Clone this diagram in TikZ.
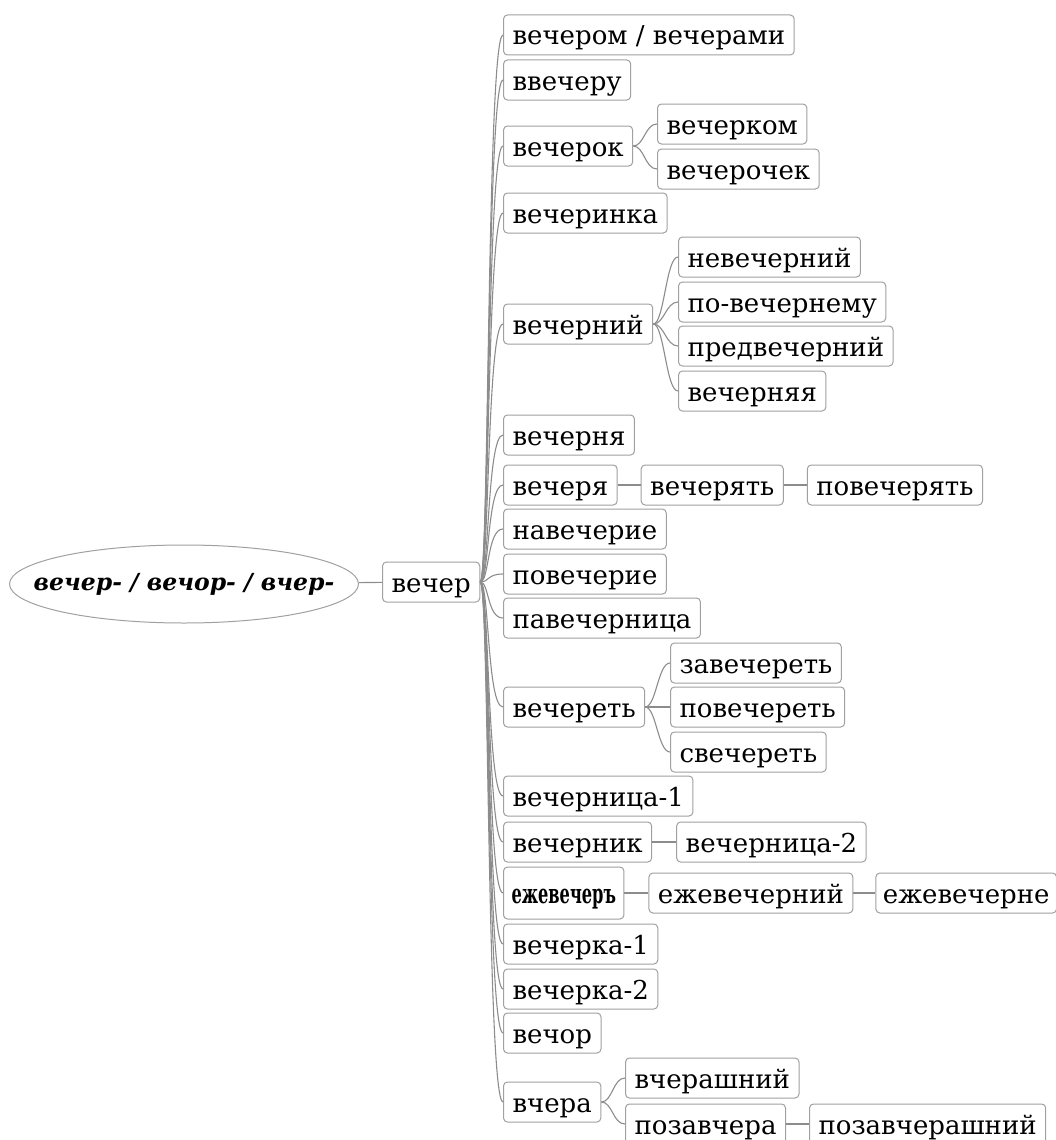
\documentclass[tikz,border=0pt]{standalone}
\usepackage{fontspec}
\setmainfont{DejaVu Serif}
\newfontfamily\ocsfont[FakeStretch=0.6]{DejaVu Serif}
\usetikzlibrary{shapes.geometric, calc, positioning}
\definecolor{boxgray}{HTML}{A0A0A0}
\definecolor{linegray}{HTML}{8C8C8C}

\begin{document}
\begin{tikzpicture}[x=1pt, y=-1pt]
    \tikzstyle{word} = [rectangle, draw=boxgray, rounded corners=4pt, line width=1pt, anchor=west,
                        inner xsep=9pt, inner ysep=4pt, text height=26pt, text depth=6pt,
                        font=\fontsize{26}{30}\selectfont]
    \tikzstyle{root} = [ellipse, draw=boxgray, line width=1pt, minimum width=349pt, minimum height=78pt,
                        inner sep=0pt, font=\fontsize{23.5}{28}\selectfont\bfseries\itshape]
    \tikzstyle{fan}  = [draw=linegray, line width=1.1pt,
                        to path={.. controls ($(\tikztostart)+(9,0)$) and ($(\tikztotarget)+(-16,0)$) .. (\tikztotarget)}]
    \tikzstyle{twig} = [draw=linegray, line width=1.1pt,
                        to path={.. controls ($(\tikztostart)+(11,0)$) and ($(\tikztotarget)+(-12,0)$) .. (\tikztotarget)}]

    \useasboundingbox (0,0) rectangle (1055,1140);

    \node (stem)   [root] at (184,584)  {\makebox[0pt]{вечер- / вечор- / вчер-}};
    \node (vecher) [word] at (382,582)  {вечер};

    % first ring
    \node (vecherom)  [word] at (503,35)   {вечером / вечерами};
    \node (vvecheru)  [word] at (503,80)   {ввечеру};
    \node (vecherok)  [word] at (503,146)  {вечерок};
    \node (vecherinka)[word] at (503,213)  {вечеринка};
    \node (vecherniy) [word] at (503,324)  {вечерний};
    \node (vechernya) [word] at (503,435)  {вечерня};
    \node (vecherya)  [word] at (503,485)  {вечеря};
    \node (navecherie)[word] at (503,529)  {навечерие};
    \node (povecherie)[word] at (503,574)  {повечерие};
    \node (pavechern) [word] at (503,618)  {павечерница};
    \node (vecheret)  [word] at (503,707)  {вечереть};
    \node (vechernica)[word] at (503,796)  {вечерница-1};
    \node (vechernik) [word] at (503,842)  {вечерник};
    \node (ezhevecher)[word, inner ysep=10pt, inner xsep=8pt] at (503,893)
                      {\fontsize{27}{30}\ocsfont\bfseries ежевечеръ};
    \node (vecherkaA) [word] at (503,944)  {вечерка-1};
    \node (vecherkaB) [word] at (503,989)  {вечерка-2};
    \node (vechor)    [word] at (503,1033) {вечор};
    \node (vchera)    [word] at (503,1102) {вчера};

    % second ring
    \node (vecherkom) [word] at (657,124)  {вечерком};
    \node (vecherochek)[word] at (657,169) {вечерочек};
    \node (nevecherniy)[word] at (678,257) {невечерний};
    \node (povechernemu)[word] at (678,302) {по-вечернему};
    \node (predvecherniy)[word] at (678,346) {предвечерний};
    \node (vechernyaya)[word] at (678,391) {вечерняя};
    \node (vecheryat) [word, right=23pt of vecherya]  {вечерять};
    \node (povecheryat)[word, right=23pt of vecheryat] {повечерять};
    \node (zavecheret)[word] at (670,663)  {завечереть};
    \node (povecheret)[word] at (670,707)  {повечереть};
    \node (svecheret) [word] at (670,752)  {свечереть};
    \node (vechernicaB)[word, right=24pt of vechernik] {вечерница-2};
    \node (ezhevecherniy)[word, right=24pt of ezhevecher] {ежевечерний};
    \node (ezhevecherne)[word, right=22pt of ezhevecherniy, inner xsep=7pt] {ежевечерне};
    \node (vcherashniy)[word] at (625,1078) {вчерашний};
    \node (pozavchera)[word] at (625,1124)  {позавчера};
    \node (pozavcherashniy)[word, right=23pt of pozavchera] {позавчерашний};

    \draw [draw=linegray, line width=1.1pt] (stem) -- (vecher);

    \draw [fan] (vecher.east) to (vecherom.west);
    \draw [fan] (vecher.east) to (vvecheru.west);
    \draw [fan] (vecher.east) to (vecherok.west);
    \draw [fan] (vecher.east) to (vecherinka.west);
    \draw [fan] (vecher.east) to (vecherniy.west);
    \draw [fan] (vecher.east) to (vechernya.west);
    \draw [fan] (vecher.east) to (vecherya.west);
    \draw [fan] (vecher.east) to (navecherie.west);
    \draw [fan] (vecher.east) to (povecherie.west);
    \draw [fan] (vecher.east) to (pavechern.west);
    \draw [fan] (vecher.east) to (vecheret.west);
    \draw [fan] (vecher.east) to (vechernica.west);
    \draw [fan] (vecher.east) to (vechernik.west);
    \draw [fan] (vecher.east) to (ezhevecher.west);
    \draw [fan] (vecher.east) to (vecherkaA.west);
    \draw [fan] (vecher.east) to (vecherkaB.west);
    \draw [fan] (vecher.east) to (vechor.west);
    \draw [fan] (vecher.east) to (vchera.west);

    \draw [twig] (vecherok.east) to (vecherkom.west);
    \draw [twig] (vecherok.east) to (vecherochek.west);
    \draw [twig] (vecherniy.east) to (nevecherniy.west);
    \draw [twig] (vecherniy.east) to (povechernemu.west);
    \draw [twig] (vecherniy.east) to (predvecherniy.west);
    \draw [twig] (vecherniy.east) to (vechernyaya.west);
    \draw [twig] (vecherya.east) to (vecheryat.west);
    \draw [twig] (vecheryat.east) to (povecheryat.west);
    \draw [twig] (vecheret.east) to (zavecheret.west);
    \draw [twig] (vecheret.east) to (povecheret.west);
    \draw [twig] (vecheret.east) to (svecheret.west);
    \draw [twig] (vechernik.east) to (vechernicaB.west);
    \draw [twig] (ezhevecher.east) to (ezhevecherniy.west);
    \draw [twig] (ezhevecherniy.east) to (ezhevecherne.west);
    \draw [twig] (vchera.east) to (vcherashniy.west);
    \draw [twig] (vchera.east) to (pozavchera.west);
    \draw [twig] (pozavchera.east) to (pozavcherashniy.west);
\end{tikzpicture}
\end{document}
